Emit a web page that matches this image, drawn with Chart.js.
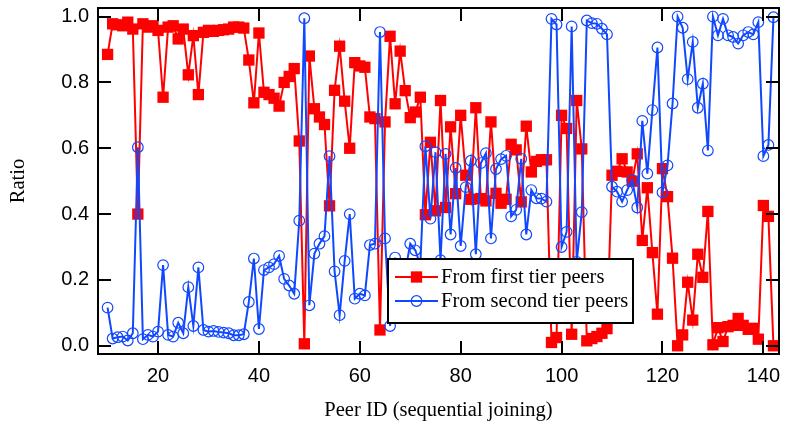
<!DOCTYPE html>
<html>
<head>
<meta charset="utf-8">
<script src="https://cdn.jsdelivr.net/npm/chart.js@4.4.0/dist/chart.umd.min.js"></script>
<style>
  html, body { margin: 0; padding: 0; background: #fff; }
</style>
</head>
<body>
<canvas id="ratioChart" width="787" height="431"></canvas>
<script>
// peers join one after another, IDs 10..142
const peerIds = Array.from({length: 133}, (_, i) => 10 + i);

const firstTier = [
  0.885, 0.978, 0.975, 0.972, 0.983, 0.962, 0.40, 0.978, 0.968, 0.972,
  0.958, 0.755, 0.968, 0.972, 0.932, 0.962, 0.823, 0.942, 0.763, 0.952,
  0.958, 0.955, 0.958, 0.96, 0.962, 0.968, 0.968, 0.965, 0.868, 0.738,
  0.95, 0.77, 0.763, 0.752, 0.728, 0.80, 0.818, 0.842, 0.622, 0.006,
  0.88, 0.72, 0.695, 0.672, 0.425, 0.776, 0.91, 0.743, 0.60, 0.86,
  0.85, 0.846, 0.695, 0.69, 0.048, 0.68, 0.94, 0.735, 0.895, 0.775,
  0.693, 0.71, 0.755, 0.398, 0.618, 0.41, 0.745, 0.42, 0.665, 0.462,
  0.70, 0.518, 0.445, 0.723, 0.447, 0.44, 0.68, 0.463, 0.433, 0.445,
  0.612, 0.595, 0.437, 0.667, 0.528, 0.56, 0.565, 0.565, 0.01, 0.025,
  0.70, 0.66, 0.035, 0.745, 0.598, 0.015, 0.022, 0.028, 0.038, 0.052,
  0.518, 0.53, 0.568, 0.528, 0.50, 0.583, 0.32, 0.48, 0.283, 0.096,
  0.538, 0.453, 0.266, 0.0, 0.033, 0.193, 0.078, 0.278, 0.208, 0.408,
  0.003, 0.055, 0.013, 0.058, 0.062, 0.083, 0.062, 0.05, 0.053, 0.02,
  0.426, 0.393, 0.0
];

const secondTier = [
  0.116, 0.022, 0.026, 0.028, 0.016, 0.038, 0.603, 0.02, 0.033, 0.028,
  0.043, 0.245, 0.033, 0.028, 0.07, 0.038, 0.178, 0.06, 0.238, 0.048,
  0.043, 0.045, 0.042, 0.04, 0.038, 0.032, 0.032, 0.035, 0.133, 0.265,
  0.051, 0.23, 0.238, 0.248, 0.273, 0.203, 0.183, 0.158, 0.38, 0.995,
  0.123, 0.28, 0.31, 0.333, 0.576, 0.226, 0.093, 0.258, 0.40, 0.143,
  0.158, 0.153, 0.306, 0.31, 0.953, 0.326, 0.06, 0.268, 0.105, 0.225,
  0.31, 0.29, 0.245, 0.606, 0.386, 0.588, 0.26, 0.583, 0.338, 0.54,
  0.303, 0.482, 0.562, 0.278, 0.555, 0.585, 0.326, 0.537, 0.567, 0.577,
  0.393, 0.413, 0.568, 0.338, 0.473, 0.448, 0.447, 0.438, 0.993, 0.976,
  0.30, 0.346, 0.97, 0.255, 0.406, 0.988, 0.98, 0.978, 0.963, 0.946,
  0.483, 0.468, 0.438, 0.473, 0.503, 0.42, 0.683, 0.523, 0.716, 0.906,
  0.466, 0.548, 0.736, 1.0, 0.966, 0.81, 0.923, 0.723, 0.796, 0.593,
  1.0, 0.943, 0.993, 0.943, 0.938, 0.918, 0.943, 0.953, 0.946, 0.983,
  0.576, 0.61, 0.998
];

const xTicks = [20, 40, 60, 80, 100, 120, 140];
const yTicks = [0, 0.2, 0.4, 0.6, 0.8, 1.0];
const seriesNames = ['From first tier peers', 'From second tier peers'];

const RED = 'rgb(255, 0, 0)';
const BLUE = 'rgb(16, 72, 255)';
const SANS = "'Liberation Sans', Arial, sans-serif";
const SERIF = "'Liberation Serif', 'Times New Roman', serif";
const TICK = 13;

const toPoints = vals => vals.map((v, i) => ({x: peerIds[i], y: v}));

// box around the plot with inward ticks on all four sides
const framePlugin = {
  id: 'frame',
  afterDatasetsDraw(chart) {
    const {ctx, chartArea: a, scales: {x, y}} = chart;
    ctx.save();
    ctx.strokeStyle = '#000';
    ctx.lineWidth = 2;
    ctx.strokeRect(a.left, a.top, a.right - a.left, a.bottom - a.top);
    ctx.beginPath();
    xTicks.forEach(v => {
      const px = Math.round(x.getPixelForValue(v));
      ctx.moveTo(px, a.bottom); ctx.lineTo(px, a.bottom - TICK);
      ctx.moveTo(px, a.top); ctx.lineTo(px, a.top + TICK);
    });
    yTicks.forEach(v => {
      const py = Math.round(y.getPixelForValue(v));
      ctx.moveTo(a.left, py); ctx.lineTo(a.left + TICK, py);
      ctx.moveTo(a.right, py); ctx.lineTo(a.right - TICK, py);
    });
    ctx.stroke();
    ctx.restore();
  }
};

// boxed legend sitting inside the plot area
const boxLegend = {
  id: 'boxLegend',
  afterDraw(chart) {
    const {ctx} = chart;
    const box = {x: 388, y: 259, w: 245, h: 64};
    ctx.save();
    ctx.fillStyle = '#fff';
    ctx.fillRect(box.x, box.y, box.w, box.h);
    ctx.strokeStyle = '#000';
    ctx.lineWidth = 2;
    ctx.strokeRect(box.x, box.y, box.w, box.h);
    const rows = [box.y + 18, box.y + 42];
    chart.data.datasets.forEach((ds, i) => {
      const ry = rows[i];
      const x0 = box.x + 7, x1 = box.x + 50, mx = (x0 + x1) / 2;
      ctx.strokeStyle = ds.borderColor;
      ctx.lineWidth = ds.borderWidth;
      ctx.beginPath();
      ctx.moveTo(x0, ry); ctx.lineTo(x1, ry);
      ctx.stroke();
      // drawPoint fills and strokes with the current context styles
      ctx.fillStyle = ds.pointBackgroundColor;
      ctx.strokeStyle = ds.borderColor;
      ctx.lineWidth = ds.pointBorderWidth;
      Chart.helpers.drawPoint(ctx, {
        pointStyle: ds.pointStyle,
        radius: ds.pointRadius,
        borderWidth: ds.pointBorderWidth,
        rotation: 0
      }, mx, ry);
      ctx.fillStyle = '#000';
      ctx.font = '20.5px ' + SERIF;
      ctx.textAlign = 'left';
      ctx.textBaseline = 'middle';
      ctx.fillText(ds.label, box.x + 53, ry + 1);
    });
    ctx.restore();
  }
};

const ctx = document.getElementById('ratioChart');
new Chart(ctx, {
  type: 'line',
  data: {
    datasets: [
      {
        label: seriesNames[0],
        data: toPoints(firstTier),
        borderColor: RED,
        backgroundColor: RED,
        borderWidth: 2,
        tension: 0,
        pointStyle: 'rect',
        pointRadius: 8,
        pointBorderWidth: 0,
        pointBackgroundColor: RED,
        order: 1
      },
      {
        label: seriesNames[1],
        data: toPoints(secondTier),
        borderColor: BLUE,
        backgroundColor: BLUE,
        borderWidth: 2,
        tension: 0,
        pointStyle: 'circle',
        pointRadius: 5.3,
        pointBorderWidth: 1.2,
        pointBorderColor: BLUE,
        pointBackgroundColor: 'rgba(0,0,0,0)',
        order: 0
      }
    ]
  },
  options: {
    responsive: false,
    animation: false,
    devicePixelRatio: 1,
    layout: {padding: {top: 3, right: 1, left: 0, bottom: 0}},
    plugins: {
      legend: {display: false},
      tooltip: {enabled: false}
    },
    scales: {
      x: {
        type: 'linear',
        min: 8.1,
        max: 143.1,
        afterBuildTicks: s => { s.ticks = xTicks.map(v => ({value: v})); },
        afterFit: s => { s.height = 77; s.paddingLeft = 0; s.paddingRight = 0; },
        grid: {display: false, drawTicks: false},
        border: {display: false},
        ticks: {
          color: '#000',
          padding: 10,
          maxRotation: 0,
          autoSkip: false,
          font: {family: SANS, size: 20},
          callback: v => String(v)
        },
        title: {
          display: true,
          text: 'Peer ID (sequential joining)',
          color: '#000',
          font: {family: SERIF, size: 20.5},
          padding: {top: 0, bottom: 8}
        }
      },
      y: {
        min: -0.025,
        max: 1.026,
        afterBuildTicks: s => { s.ticks = yTicks.map(v => ({value: v})); },
        afterFit: s => { s.width = 98; s.paddingTop = 0; s.paddingBottom = 0; },
        grid: {display: false, drawTicks: false},
        border: {display: false},
        ticks: {
          color: '#000',
          padding: 9,
          autoSkip: false,
          font: {family: SANS, size: 20},
          callback: v => v.toFixed(1)
        },
        title: {
          display: true,
          text: 'Ratio',
          color: '#000',
          font: {family: SERIF, size: 20.5},
          padding: {top: 6, bottom: 0}
        }
      }
    }
  },
  plugins: [framePlugin, boxLegend]
});
</script>
</body>
</html>
